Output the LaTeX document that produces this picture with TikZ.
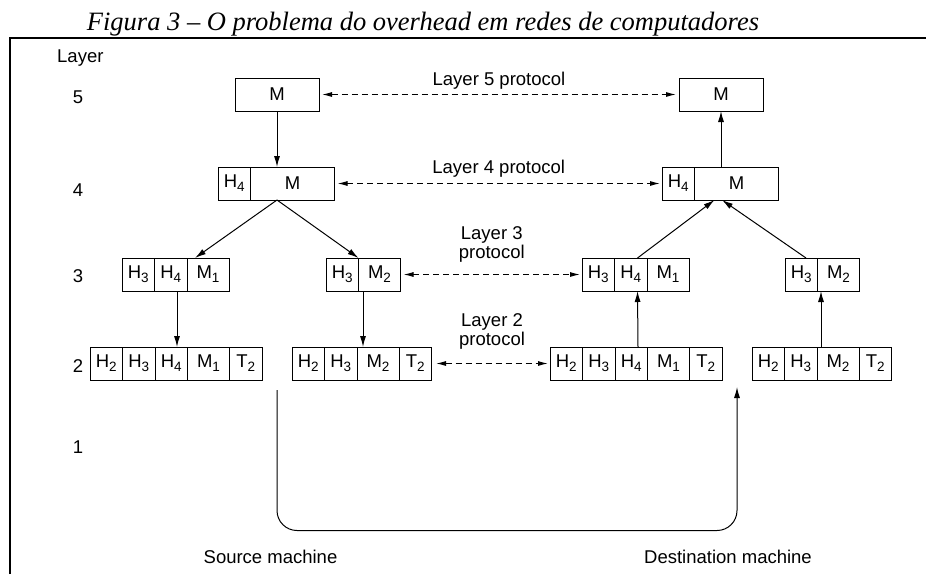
\documentclass[tikz,border=0pt]{standalone}
\usepackage{fontspec}
\setmainfont{Liberation Sans}
\newfontfamily\captionserif{Liberation Serif}
\usetikzlibrary{arrows.meta}

% lowered index digit used inside the packet cells
\newcommand\sbs[1]{\raisebox{-4pt}{\fontsize{13.5}{13.5}\selectfont #1}}

\begin{document}
\begin{tikzpicture}[x=1pt,y=-1pt,
  cell/.style={draw, line width=1pt, minimum height=33pt, inner sep=0pt,
    outer sep=0pt, anchor=west, font=\fontsize{18.5}{20}\selectfont},
  hc/.style={cell, minimum width=32.5pt},
  mc/.style={cell, minimum width=42pt},
  wide/.style={cell, minimum width=84pt},
  link/.style={line width=1pt, -{Latex[length=11pt,width=6pt]}},
  peer/.style={line width=1pt, dash pattern=on 6pt off 4pt,
    {Latex[length=10pt,width=5pt]}-{Latex[length=10pt,width=5pt]}},
  lbl/.style={font=\fontsize{18.5}{21}\selectfont, inner sep=0pt, anchor=base},
]
\useasboundingbox (0,0) rectangle (926,574);

% caption and frame
\node[anchor=base, inner sep=0pt, font=\captionserif\itshape\fontsize{26.5}{30}\selectfont]
  (caption) at (423,30.5) {Figura 3 – O problema do overhead em redes de computadores};
\draw[line width=2pt] (10,574) -- (10,37.7) -- (926,37.7);

% layer numbers
\node[lbl, anchor=base west] (lay) at (57,62) {Layer};
\node[lbl] (n5) at (78,103) {5};
\node[lbl] (n4) at (78,196) {4};
\node[lbl] (n3) at (78,282) {3};
\node[lbl] (n2) at (78,372) {2};
\node[lbl] (n1) at (78,453) {1};

% layer 5
\node[wide] (s5) at (235,94.5) {M};
\node[wide] (d5) at (679,94.5) {M};

% layer 4
\node[hc]   (s4h) at (218,183.5) {H\sbs4};
\node[wide] (s4m) at (s4h.east) {M};
\node[hc]   (d4h) at (662,183.5) {H\sbs4};
\node[wide] (d4m) at (d4h.east) {M};

% layer 3
\node[hc] (s3a) at (122,274.5) {H\sbs3};
\node[hc] (s3b) at (s3a.east) {H\sbs4};
\node[mc] (s3c) at (s3b.east) {M\sbs1};

\node[hc] (t3a) at (326,274.5) {H\sbs3};
\node[mc] (t3b) at (t3a.east) {M\sbs2};

\node[hc] (u3a) at (582,274.5) {H\sbs3};
\node[hc] (u3b) at (u3a.east) {H\sbs4};
\node[mc] (u3c) at (u3b.east) {M\sbs1};

\node[hc] (v3a) at (785,274.5) {H\sbs3};
\node[mc] (v3b) at (v3a.east) {M\sbs2};

% layer 2
\node[hc] (s2a) at (90,363.5) {H\sbs2};
\node[hc] (s2b) at (s2a.east) {H\sbs3};
\node[hc] (s2c) at (s2b.east) {H\sbs4};
\node[mc] (s2d) at (s2c.east) {M\sbs1};
\node[hc] (s2e) at (s2d.east) {T\sbs2};

\node[hc] (t2a) at (292,363.5) {H\sbs2};
\node[hc] (t2b) at (t2a.east) {H\sbs3};
\node[mc] (t2c) at (t2b.east) {M\sbs2};
\node[hc] (t2d) at (t2c.east) {T\sbs2};

\node[hc] (u2a) at (550,363.5) {H\sbs2};
\node[hc] (u2b) at (u2a.east) {H\sbs3};
\node[hc] (u2c) at (u2b.east) {H\sbs4};
\node[mc] (u2d) at (u2c.east) {M\sbs1};
\node[hc] (u2e) at (u2d.east) {T\sbs2};

\node[hc] (v2a) at (752,363.5) {H\sbs2};
\node[hc] (v2b) at (v2a.east) {H\sbs3};
\node[mc] (v2c) at (v2b.east) {M\sbs2};
\node[hc] (v2d) at (v2c.east) {T\sbs2};

% sending side: downward
\draw[link] (s5.south) -- (s5.south |- s4m.north);
\draw[link] (s5.south |- s4m.south) -- ([xshift=8pt]s3c.north west);
\draw[link] (s5.south |- s4m.south) -- (t3b.north west);
\draw[link] ([xshift=22.5pt]s3b.south west) -- ([xshift=22pt]s2c.north west);
\draw[link] ([xshift=4.5pt]t3b.south west) -- ([xshift=6pt]t2c.north west);

% receiving side: upward
\draw[link] ([xshift=23pt]u2c.north west) -- ([xshift=23pt]u3b.south west);
\draw[link] ([xshift=4pt]v2c.north west) -- ([xshift=3.5pt]v3b.south west);
\draw[link] ([xshift=23pt]u3b.north west) -- ([xshift=20pt]d4m.south west);
\draw[link] ([xshift=21pt]v3a.north west) -- ([xshift=27.5pt]d4m.south west);
\draw[link] (d5.south |- d4m.north) -- (d5.south);

% peer protocols
\draw[peer] ([xshift=3pt]s5.east) -- ([xshift=-3pt]d5.west)
  node[lbl, midway, yshift=9.5pt] (p5) {Layer 5 protocol};
\draw[peer] ([xshift=3pt]s4m.east) -- ([xshift=-2pt]d4h.west)
  node[lbl, midway, yshift=10.5pt] (p4) {Layer 4 protocol};
\draw[peer] ([xshift=3pt]t3b.east) -- ([xshift=-2pt]u3a.west)
  node[lbl, midway, yshift=35pt] (p3a) {Layer 3}
  node[lbl, midway, yshift=16pt] (p3b) {protocol};
\draw[peer] ([xshift=4.5pt]t2d.east) -- ([xshift=-2pt]u2a.west)
  node[lbl, midway, yshift=37.5pt] (p2a) {Layer 2}
  node[lbl, midway, yshift=18.5pt] (p2b) {protocol};

% physical medium
\coordinate (txa) at (277,390);
\coordinate (rxa) at (737,387);
\draw[link, rounded corners=20pt] (txa) -- (txa |- 0,530.5) -- (rxa |- 0,530.5) -- (rxa);

\node[lbl] (src) at (270.5,563) {Source machine};
\node[lbl] (dst) at (728,563) {Destination machine};
\end{tikzpicture}
\end{document}
